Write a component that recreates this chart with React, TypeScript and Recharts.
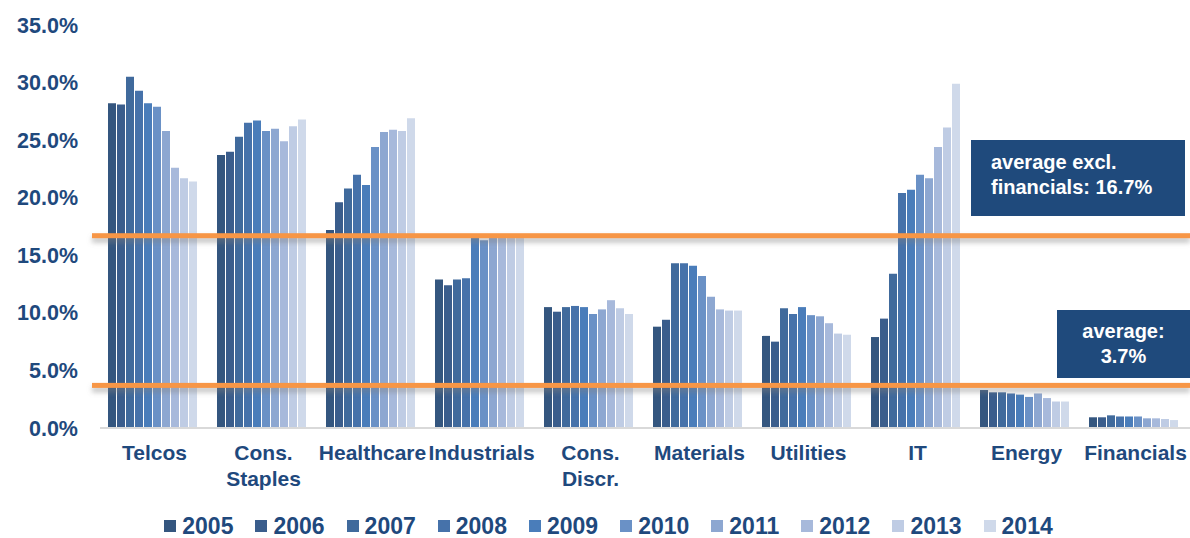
import { BarChart, Bar, XAxis, YAxis, Legend, ReferenceLine } from 'recharts';

const sectors = ['Telcos', 'Cons. Staples', 'Healthcare', 'Industrials', 'Cons. Discr.', 'Materials', 'Utilities', 'IT', 'Energy', 'Financials'];

const years = ['2005', '2006', '2007', '2008', '2009', '2010', '2011', '2012', '2013', '2014'];

const y2005 = [28.2, 23.7, 17.2, 12.9, 10.5, 8.8, 8.0, 7.9, 3.3, 0.93];
const y2006 = [28.1, 24.0, 19.6, 12.4, 10.1, 9.4, 7.5, 9.5, 3.1, 0.93];
const y2007 = [30.5, 25.3, 20.8, 12.9, 10.5, 14.3, 10.4, 13.4, 3.1, 1.1];
const y2008 = [29.3, 26.5, 22.0, 13.0, 10.6, 14.3, 9.9, 20.4, 3.0, 1.0];
const y2009 = [28.2, 26.7, 21.1, 16.6, 10.5, 14.1, 10.5, 20.7, 2.9, 1.0];
const y2010 = [27.9, 25.8, 24.4, 16.3, 9.9, 13.2, 9.8, 22.0, 2.7, 1.0];
const y2011 = [25.8, 26.0, 25.7, 16.7, 10.3, 11.4, 9.7, 21.7, 3.0, 0.84];
const y2012 = [22.6, 24.9, 25.9, 16.7, 11.1, 10.3, 9.1, 24.4, 2.6, 0.84];
const y2013 = [21.7, 26.2, 25.8, 16.5, 10.4, 10.2, 8.2, 26.1, 2.3, 0.78];
const y2014 = [21.4, 26.8, 26.9, 16.6, 9.9, 10.2, 8.1, 29.9, 2.3, 0.69];

const yearValues = [y2005, y2006, y2007, y2008, y2009, y2010, y2011, y2012, y2013, y2014];

const yTicks = [0, 5, 10, 15, 20, 25, 30, 35];

const avgExclFinancials = 16.7;
const avgAll = 3.7;

const COLORS = ['#34567F', '#3A5D8C', '#406A9C', '#4672AA', '#4A7DBA', '#6A91C6', '#8DA7D1', '#A7B9DB', '#BFCCE4', '#CFD9EA'];

const TEXT = '#1F497D';
const FONT = '"Liberation Sans", Arial, sans-serif';

const data = sectors.map((name, i) => {
  const row: Record<string, string | number> = { name };
  years.forEach((yr, j) => {
    row[yr] = yearValues[j][i];
  });
  return row;
});

const SectorTick = (props: any) => {
  const { x, y, payload } = props;
  const parts = String(payload.value).split(' ');
  const lines = parts.length > 1 && parts[0].endsWith('.') ? [parts[0], parts.slice(1).join(' ')] : [payload.value];
  return (
    <text x={x} y={y + 32} textAnchor="middle" fill={TEXT} fontSize={21} fontWeight="bold" fontFamily={FONT}>
      {lines.map((l: string, i: number) => (
        <tspan key={i} x={x} dy={i === 0 ? 0 : 26}>{l}</tspan>
      ))}
    </text>
  );
};

const AvgLine = (props: any) => {
  const { x1, y1, x2 } = props;
  const left = x1 - 8;
  return (
    <g>
      <defs>
        <filter id="avgShadow" filterUnits="userSpaceOnUse" x={0} y={0} width={1300} height={600}>
          <feGaussianBlur stdDeviation={2.5} />
        </filter>
      </defs>
      <rect x={left} y={y1 + 1} width={x2 - left} height={6} fill="#808080" fillOpacity={0.45} filter="url(#avgShadow)" />
      <rect x={left} y={y1 - 2.5} width={x2 - left} height={5} fill="#F79646" />
    </g>
  );
};

const YearLegend = () => (
  <div style={{ display: 'flex', justifyContent: 'center', paddingLeft: 27, paddingTop: 15, fontFamily: FONT }}>
    {years.map((yr, i) => (
      <div key={yr} style={{ display: 'flex', alignItems: 'center', marginRight: i < years.length - 1 ? 22 : 0 }}>
        <span style={{ display: 'inline-block', width: 12, height: 12, background: COLORS[i], marginRight: 6 }} />
        <span style={{ color: TEXT, fontSize: 23, fontWeight: 'bold', lineHeight: '26px' }}>{yr}</span>
      </div>
    ))}
  </div>
);

const boxStyle: React.CSSProperties = {
  position: 'absolute',
  background: '#1F4A7C',
  color: '#ffffff',
  fontFamily: FONT,
  fontWeight: 'bold',
  fontSize: 20,
  lineHeight: '25px',
  boxSizing: 'border-box',
};

export default function App() {
  return (
    <div style={{ position: 'absolute', left: 0, top: 0, width: 1190, height: 538, background: '#fff' }}>
      <BarChart
        width={1190}
        height={538}
        data={data}
        margin={{ top: 25, right: 0, left: 0, bottom: 0 }}
        barCategoryGap={8}
        barGap={1}
      >
        <XAxis
          dataKey="name"
          interval={0}
          height={70}
          tickLine={false}
          tickSize={0}
          tickMargin={0}
          axisLine={{ stroke: '#D9D9D9', strokeWidth: 2 }}
          tick={<SectorTick />}
        />
        <YAxis
          width={100}
          domain={[0, 35]}
          ticks={yTicks}
          axisLine={false}
          tickLine={false}
          tickSize={0}
          tickMargin={22}
          tickFormatter={(v: number) => `${v.toFixed(1)}%`}
          tick={{ fill: TEXT, fontSize: 21.5, fontWeight: 'bold', fontFamily: FONT }}
        />
        <Legend verticalAlign="bottom" height={40} content={<YearLegend />} />
        {years.map((yr, i) => (
          <Bar key={yr} dataKey={yr} fill={COLORS[i]} isAnimationActive={false} />
        ))}
        <ReferenceLine y={avgExclFinancials} ifOverflow="visible" shape={<AvgLine />} />
        <ReferenceLine y={avgAll} ifOverflow="visible" shape={<AvgLine />} />
      </BarChart>
      <div style={{ ...boxStyle, left: 971, top: 140, width: 214, height: 76, paddingLeft: 20, paddingTop: 10 }}>
        <div>average excl.</div>
        <div>financials: {avgExclFinancials}%</div>
      </div>
      <div style={{ ...boxStyle, left: 1057, top: 310, width: 133, height: 68, paddingTop: 9, textAlign: 'center' }}>
        <div>average:</div>
        <div>{avgAll}%</div>
      </div>
    </div>
  );
}
